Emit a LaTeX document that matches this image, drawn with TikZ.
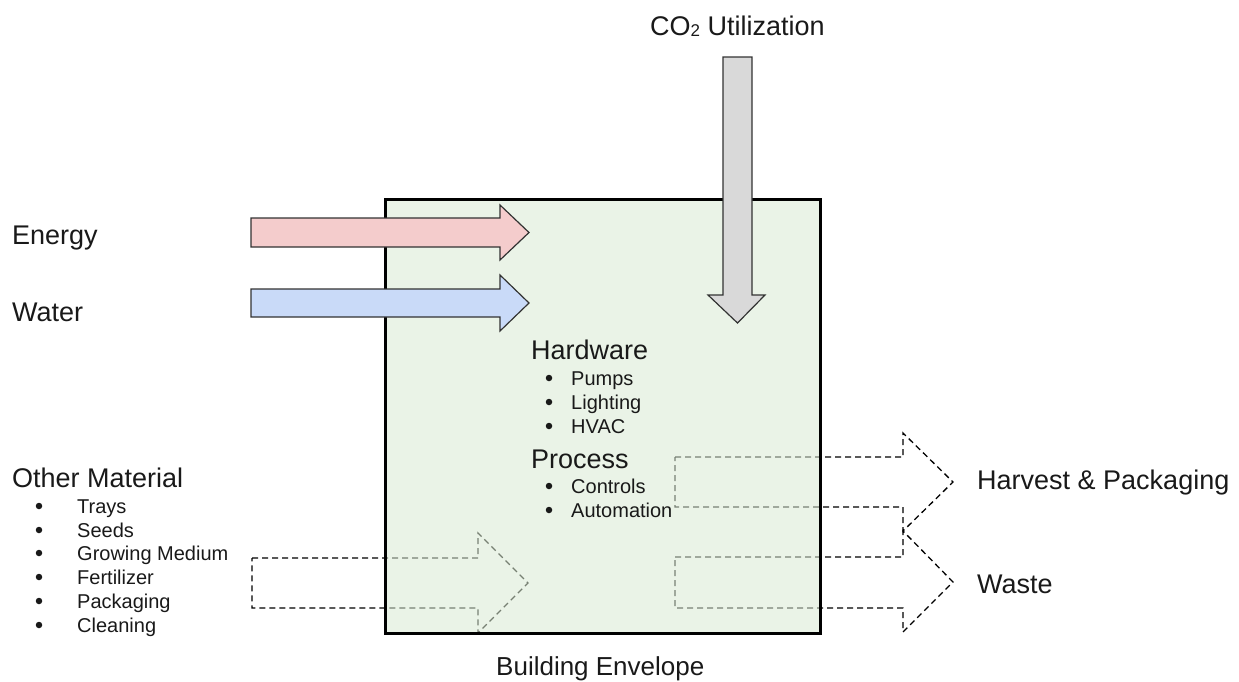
\documentclass[tikz,border=0pt]{standalone}
\usepackage{fontspec}
\setmainfont{Liberation Sans}
\definecolor{txt}{RGB}{25,25,25}
\definecolor{envfill}{RGB}{217,234,211}
\definecolor{energyfill}{RGB}{244,204,204}
\definecolor{waterfill}{RGB}{201,218,248}
\definecolor{cofill}{RGB}{217,217,217}
\definecolor{edge}{RGB}{50,50,50}
\tikzset{
  big/.style={font=\fontsize{27}{32}\selectfont, text=txt, inner sep=0pt, anchor=base west},
  small/.style={font=\fontsize{20}{24}\selectfont, text=txt, inner sep=0pt, anchor=base west},
  bul/.style={circle, fill=txt, minimum size=6.5pt, inner sep=0pt},
  solidarrow/.style={draw=edge, line width=1.2pt, line join=miter},
  dasharrow/.style={draw=black, line width=1.3pt, dash pattern=on 6pt off 4pt},
  envelope/.style={draw=black, line width=3pt},
}
\begin{document}
\begin{tikzpicture}[x=1pt,y=-1pt]
\useasboundingbox (0,0) rectangle (1239,681);
% dashed arrows (under the envelope)
\draw[dasharrow] (252,558)--(478,558)--(478,533)--(528,583)--(478,633)--(478,608)--(252,608)--cycle;
\draw[dasharrow] (675,457)--(903,457)--(903,433)--(953,482)--(903,531)--(903,507)--(675,507)--cycle;
\draw[dasharrow] (675,557)--(903,557)--(903,531)--(953,582)--(903,632)--(903,608)--(675,608)--cycle;
% building envelope
\fill[envfill, fill opacity=0.55] (385,199) rectangle (820,633);
\draw[envelope] (385,199) rectangle (820,633);
% solid arrows
\draw[solidarrow, fill=energyfill] (251,218)--(500,218)--(500,205)--(529,232.5)--(500,260)--(500,247)--(251,247)--cycle;
\draw[solidarrow, fill=waterfill] (251,289)--(500,289)--(500,275)--(529,303)--(500,331)--(500,317)--(251,317)--cycle;
\draw[solidarrow, fill=cofill] (723,57)--(752,57)--(752,295)--(765,295)--(737.5,323)--(708,295)--(723,295)--cycle;
% labels
\node[big] (co2) at (650,35) {CO\raisebox{-1pt}{\fontsize{17}{17}\selectfont 2} Utilization};
\node[big] (energy) at (12,244) {Energy};
\node[big] (water) at (12,321) {Water};
\node[big] (other) at (12,487) {Other Material};
\node[big] (harvest) at (977,489) {Harvest \& Packaging};
\node[big] (waste) at (977,593) {Waste};
\node[big, font=\fontsize{26}{32}\selectfont] (bldg) at (496,675) {Building Envelope};
\node[big] (hw) at (531,359) {Hardware};
\node[big] (proc) at (531,468) {Process};
% hardware list
\node[small] (i1) at (571,385) {Pumps};
\node[small] (i2) at (571,409) {Lighting};
\node[small] (i3) at (571,433) {HVAC};
\node[small] (i4) at (571,493) {Controls};
\node[small] (i5) at (571,517) {Automation};
\foreach \n/\y in {b1/385,b2/409,b3/433,b4/493,b5/517}{
  \node[bul] (\n) at (549,\y-7) {};
}
% other material list
\node[small] (m1) at (77,513) {Trays};
\node[small] (m2) at (77,537) {Seeds};
\node[small] (m3) at (77,560) {Growing Medium};
\node[small] (m4) at (77,584) {Fertilizer};
\node[small] (m5) at (77,608) {Packaging};
\node[small] (m6) at (77,632) {Cleaning};
\foreach \n/\y in {c1/513,c2/537,c3/560,c4/584,c5/608,c6/632}{
  \node[bul] (\n) at (39,\y-7) {};
}
\end{tikzpicture}
\end{document}
